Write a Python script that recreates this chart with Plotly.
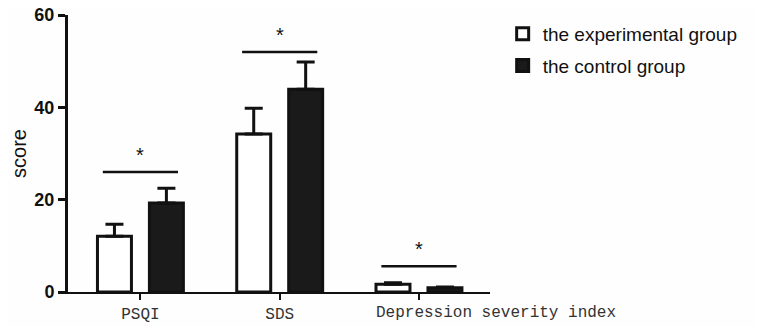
import plotly.graph_objects as go

categories = ["PSQI", "SDS", "Depression severity index"]
exp_values = [12.1, 34.2, 1.7]
exp_errors = [2.6, 5.6, 0.3]
ctrl_values = [19.3, 43.9, 0.9]
ctrl_errors = [3.2, 5.9, 0.2]
sig_heights = [26, 52, 5.6]
y_ticks = [0, 20, 40, 60]

x_idx = list(range(len(categories)))
# the long last label is drawn left-aligned near its tick, as in the reference
tick_text = categories[:-1] + [""]

fig = go.Figure()
fig.add_trace(go.Bar(
    x=x_idx, y=exp_values, name="the experimental group",
    marker=dict(color="white", line=dict(color="#111", width=3)),
    error_y=dict(type="data", array=exp_errors, arrayminus=[0]*3, symmetric=False,
                 color="#111", thickness=3, width=9),
    legendgroup="a",
))
fig.add_trace(go.Bar(
    x=x_idx, y=ctrl_values, name="the control group",
    marker=dict(color="#1a1a1a", line=dict(color="#111", width=3)),
    error_y=dict(type="data", array=ctrl_errors, arrayminus=[0]*3, symmetric=False,
                 color="#111", thickness=3, width=9),
    legendgroup="b",
))

half = 0.27
for i, h in zip(x_idx, sig_heights):
    fig.add_trace(go.Scatter(
        x=[i - half, i + half], y=[h, h], mode="lines",
        line=dict(color="#111", width=2.5), showlegend=False, hoverinfo="skip",
    ))
    fig.add_annotation(x=i, y=h, text="*", showarrow=False, yshift=17,
                       font=dict(family="Arial", size=20, color="#111"))

fig.add_annotation(x=x_idx[-1], xref="x", y=0, yref="paper", text=categories[-1],
                   showarrow=False, xanchor="left", yanchor="top",
                   xshift=-45, yshift=-10,
                   font=dict(family="Liberation Mono", size=16, color="#333"))

fig.update_layout(
    width=757, height=318,
    margin=dict(l=60, r=275, t=7, b=34, autoexpand=False),
    paper_bgcolor="#fefefe", plot_bgcolor="#fefefe",
    barmode="group", bargap=0.254, bargroupgap=0.346,
    showlegend=True,
    legend=dict(x=1.03, y=1.0, xanchor="left", yanchor="top",
                font=dict(family="Arial", size=19, color="#111"),
                traceorder="grouped", tracegroupgap=4,
                bgcolor="rgba(0,0,0,0)"),
    xaxis=dict(range=[-0.52, 2.51], tickvals=x_idx, ticktext=tick_text,
               automargin=False, tickangle=0, ticklabeloverflow="allow",
               showline=True, linecolor="#111", linewidth=2,
               ticks="outside", ticklen=6, tickwidth=2, tickcolor="#111",
               showgrid=False, zeroline=False,
               tickfont=dict(family="Liberation Mono", size=16, color="#333")),
    yaxis=dict(range=[0, 60], tickvals=y_ticks, automargin=False,
               ticklabeloverflow="allow",
               showline=True, linecolor="#111", linewidth=3,
               ticks="outside", ticklen=7, tickwidth=3, tickcolor="#111",
               showgrid=False, zeroline=False,
               tickfont=dict(family="Arial", size=18, color="#111", weight="bold"),
               title=dict(text="score", font=dict(family="Arial", size=20, color="#111"),
                          standoff=8)),
)

fig.write_html("out.html")
